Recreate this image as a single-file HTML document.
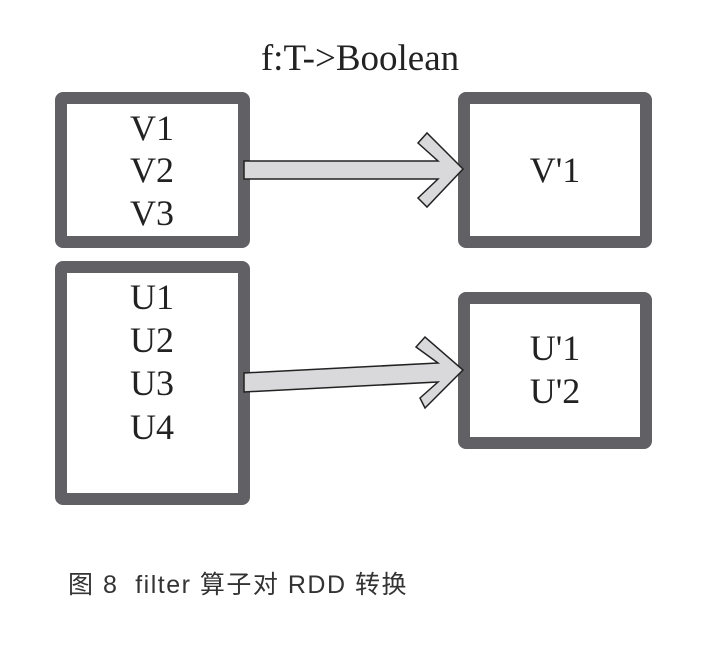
<!DOCTYPE html>
<html><head><meta charset="utf-8"><style>
body{margin:0;background:#fff;width:722px;height:644px;overflow:hidden}
</style></head><body>
<svg width="722" height="644" xmlns="http://www.w3.org/2000/svg">
<text x="360" y="70" text-anchor="middle" font-family="Liberation Serif, serif" font-size="37" fill="#222">f:T-&gt;Boolean</text>
<g fill="none" stroke="#616165" stroke-width="12" stroke-linejoin="round">
<rect x="61" y="98" width="183" height="144" rx="2"/>
<rect x="464" y="98" width="182" height="144" rx="2"/>
<rect x="61" y="267" width="183" height="232" rx="2"/>
<rect x="464" y="298" width="182" height="145" rx="2"/>
</g>
<g fill="#d9d9db" stroke="#222" stroke-width="1.5" stroke-linejoin="miter">
<polygon points="244,161 438,161 418,143 427,133 463,169 427,207 418,198 438,179 244,179"/>
<polygon points="244,373 438,363 416,347 425,337 463,370 425,408 420,398 438,382 244,392"/>
</g>
<g font-family="Liberation Serif, serif" font-size="36" fill="#222" text-anchor="middle">
<text x="152" y="140">V1</text>
<text x="152" y="182">V2</text>
<text x="152" y="225">V3</text>
<text x="555" y="182">V'1</text>
<text x="152" y="309">U1</text>
<text x="152" y="352">U2</text>
<text x="152" y="395">U3</text>
<text x="152" y="439">U4</text>
<text x="555" y="360">U'1</text>
<text x="555" y="403">U'2</text>
</g>
<text x="68" y="593" font-family="Liberation Sans, Noto Sans CJK SC, sans-serif" font-size="25" letter-spacing="1.5" fill="#333" xml:space="preserve">图 8  filter 算子对 RDD 转换</text>
</svg>
</body></html>
